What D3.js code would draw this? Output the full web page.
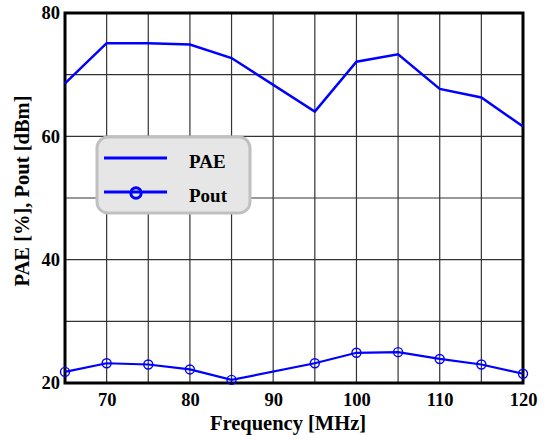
<!DOCTYPE html>
<html>
<head>
<meta charset="utf-8">
<script src="https://cdn.jsdelivr.net/npm/d3@7"></script>
<style>
  body { margin: 0; background: #fff; }
</style>
</head>
<body>
<div class="chart"></div>
<script>
const freq = [65, 70, 75, 80, 85, 95, 100, 105, 110, 115, 120];
const pae  = [68.6, 75.1, 75.1, 74.9, 72.7, 64.0, 72.1, 73.3, 67.7, 66.3, 61.6];
const pout = [21.8, 23.2, 23.0, 22.2, 20.5, 23.2, 24.9, 25.0, 23.9, 23.0, 21.5];
const xTicks = [70, 80, 90, 100, 110, 120];
const yTicks = [20, 40, 60, 80];

const W = 545, H = 435;
const margin = {top: 13, right: 22, bottom: 52, left: 65};
const width = W - margin.left - margin.right;
const height = H - margin.top - margin.bottom;
const blue = "#0000ff";
const serif = "'Liberation Serif'";

const svg = d3.select(".chart").append("svg")
  .attr("width", W).attr("height", H);
const g = svg.append("g").attr("transform", `translate(${margin.left},${margin.top})`);

const x = d3.scaleLinear().domain([65, 120]).range([0, width]);
const y = d3.scaleLinear().domain([20, 80]).range([height, 0]);

// grid
g.append("g").selectAll("line")
  .data(d3.range(70, 120, 5))
  .enter().append("line")
  .attr("x1", d => x(d)).attr("x2", d => x(d))
  .attr("y1", 0).attr("y2", height)
  .attr("stroke", "#333").attr("stroke-width", 1.2);
g.append("g").selectAll("line")
  .data(d3.range(30, 80, 10))
  .enter().append("line")
  .attr("x1", 0).attr("x2", width)
  .attr("y1", d => y(d)).attr("y2", d => y(d))
  .attr("stroke", "#333").attr("stroke-width", 1.2);

// axes
const xAxis = g.append("g")
  .attr("transform", `translate(0,${height})`)
  .call(d3.axisBottom(x).tickValues(xTicks).tickSize(0).tickPadding(0));
const yAxis = g.append("g")
  .call(d3.axisLeft(y).tickValues(yTicks).tickSize(0).tickPadding(5));
[xAxis, yAxis].forEach(a => {
  a.attr("font-family", serif).attr("font-size", 18.5);
  a.select(".domain").remove();
  a.selectAll("text")
    .attr("font-family", serif).attr("font-weight", "bold")
    .attr("font-size", 18.5).attr("fill", "#000");
});
xAxis.selectAll("text").attr("y", 23).attr("dy", null);
yAxis.selectAll("text").attr("dy", "0.32em");

// frame
g.append("rect")
  .attr("x", 0).attr("y", 0).attr("width", width).attr("height", height)
  .attr("fill", "none").attr("stroke", "#000").attr("stroke-width", 3);

// lines
const line = d3.line().x(d => x(d[0])).y(d => y(d[1]));
g.append("path")
  .datum(d3.zip(freq, pae))
  .attr("d", line)
  .attr("fill", "none").attr("stroke", blue).attr("stroke-width", 2.5);
g.append("path")
  .datum(d3.zip(freq, pout))
  .attr("d", line)
  .attr("fill", "none").attr("stroke", blue).attr("stroke-width", 2.2);
g.selectAll("circle.pout")
  .data(d3.zip(freq, pout))
  .enter().append("circle")
  .attr("class", "pout")
  .attr("cx", d => x(d[0])).attr("cy", d => y(d[1]))
  .attr("r", 4.5)
  .attr("fill", "none").attr("stroke", blue).attr("stroke-width", 1.4);

// legend
const lg = svg.append("g").attr("transform", "translate(97,137)");
lg.append("rect")
  .attr("width", 153).attr("height", 76).attr("rx", 11)
  .attr("fill", "#e6e6e6").attr("stroke", "#c0c0c0").attr("stroke-width", 3);
lg.append("line").attr("x1", 7).attr("x2", 70).attr("y1", 21).attr("y2", 21)
  .attr("stroke", blue).attr("stroke-width", 3.2);
lg.append("line").attr("x1", 7).attr("x2", 70).attr("y1", 55).attr("y2", 55)
  .attr("stroke", blue).attr("stroke-width", 3.2);
lg.append("circle").attr("cx", 39).attr("cy", 56).attr("r", 5.2)
  .attr("fill", "none").attr("stroke", blue).attr("stroke-width", 3);
lg.selectAll("text.lbl")
  .data(["PAE", "Pout"])
  .enter().append("text")
  .attr("x", 92).attr("y", (d, i) => 31 + i * 34)
  .attr("font-family", serif).attr("font-weight", "bold").attr("font-size", 19)
  .text(d => d);

// titles
svg.append("text")
  .attr("x", 288).attr("y", 430)
  .attr("text-anchor", "middle")
  .attr("font-family", serif).attr("font-weight", "bold").attr("font-size", 20.5)
  .text("Frequency [MHz]");
svg.append("text")
  .attr("transform", "translate(29,191) rotate(-90)")
  .attr("text-anchor", "middle")
  .attr("font-family", serif).attr("font-weight", "bold").attr("font-size", 20.5)
  .text("PAE [%], Pout [dBm]");
</script>
</body>
</html>
